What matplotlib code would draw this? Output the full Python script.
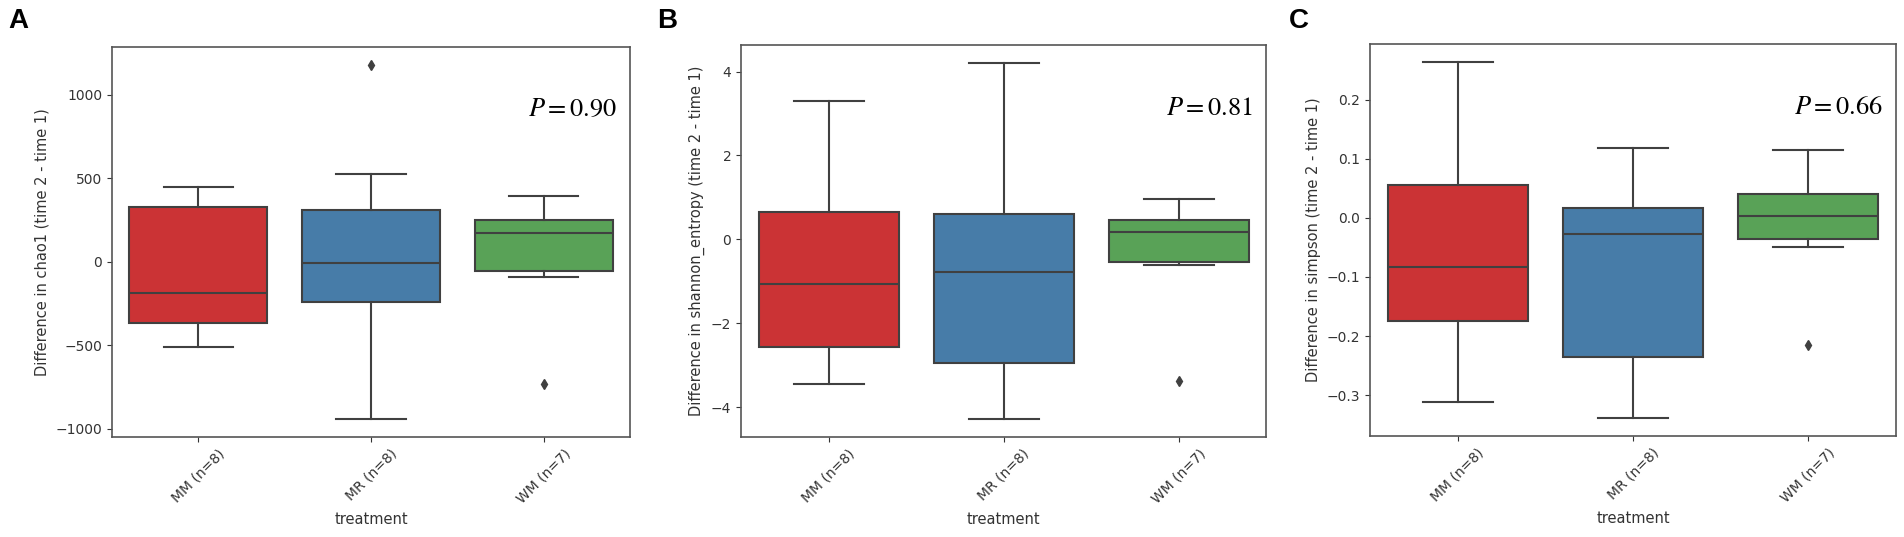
import matplotlib
matplotlib.use("Agg")
import matplotlib.pyplot as plt
import seaborn as sns

# groups and box statistics
treatments = ["MM (n=8)", "MR (n=8)", "WM (n=7)"]

chao1_whislo = [-511, -943, -88]
chao1_q1 = [-365, -240, -55]
chao1_med = [-189, -6, 175]
chao1_q3 = [331, 308, 250]
chao1_whishi = [450, 524, 396]
chao1_fliers = [[], [1181], [-729]]

shannon_whislo = [-3.46, -4.29, -0.61]
shannon_q1 = [-2.57, -2.96, -0.53]
shannon_med = [-1.06, -0.79, 0.17]
shannon_q3 = [0.66, 0.60, 0.45]
shannon_whishi = [3.30, 4.21, 0.97]
shannon_fliers = [[], [], [-3.37]]

simpson_whislo = [-0.312, -0.339, -0.050]
simpson_q1 = [-0.174, -0.236, -0.035]
simpson_med = [-0.083, -0.028, 0.003]
simpson_q3 = [0.056, 0.017, 0.040]
simpson_whishi = [0.264, 0.119, 0.114]
simpson_fliers = [[], [], [-0.215]]

metrics = ["chao1", "shannon_entropy", "simpson"]
p_values = ["0.90", "0.81", "0.66"]
letters = ["A", "B", "C"]

palette = [sns.desaturate(c, 0.75) for c in sns.color_palette("Set1", 3)]
line_col = "#404040"

W, H = 1904, 537
fig = plt.figure(figsize=(W / 100, H / 100), dpi=100)
plt.rcParams["mathtext.fontset"] = "stix"

boxes = [(112, 630, 47, 437), (741, 1266, 45, 437), (1370, 1896, 44, 436)]
letter_x = [8, 657, 1289]

data = [
    (chao1_whislo, chao1_q1, chao1_med, chao1_q3, chao1_whishi, chao1_fliers),
    (shannon_whislo, shannon_q1, shannon_med, shannon_q3, shannon_whishi, shannon_fliers),
    (simpson_whislo, simpson_q1, simpson_med, simpson_q3, simpson_whishi, simpson_fliers),
]

for i, (l, r, t, b) in enumerate(boxes):
    ax = fig.add_axes([l / W, (H - b) / H, (r - l) / W, (b - t) / H])
    wlo, q1, med, q3, whi, fl = data[i]
    stats = []
    for j in range(len(treatments)):
        stats.append(dict(whislo=wlo[j], q1=q1[j], med=med[j], q3=q3[j],
                          whishi=whi[j], fliers=fl[j]))
    bp = ax.bxp(stats, positions=range(len(treatments)), widths=0.8,
                patch_artist=True, showfliers=True,
                boxprops=dict(edgecolor=line_col, linewidth=1.5),
                whiskerprops=dict(color=line_col, linewidth=1.5),
                capprops=dict(color=line_col, linewidth=1.5),
                medianprops=dict(color=line_col, linewidth=1.5),
                flierprops=dict(marker="d", markerfacecolor=line_col,
                                markeredgecolor=line_col, markersize=5))
    for patch, c in zip(bp["boxes"], palette):
        patch.set_facecolor(c)
    ax.set_xlim(-0.5, len(treatments) - 0.5)
    ax.set_xticks(range(len(treatments)))
    ax.set_xticklabels(treatments, rotation=45, ha="center")
    ax.tick_params(labelsize=10, colors="#333333")
    for s in ax.spines.values():
        s.set_color("#555555")
        s.set_linewidth(1.2)
    ax.set_xlabel("treatment", fontsize=10.5, color="#333333")
    ax.set_ylabel("Difference in %s (time 2 - time 1)" % metrics[i],
                  fontsize=10.5, color="#333333")
    ax.text(0.975, 0.84, r"$P = \mathrm{%s}$" % p_values[i], transform=ax.transAxes,
            ha="right", va="center", fontsize=19)
    fig.text(letter_x[i] / W, 1 - 8 / H, letters[i], ha="left", va="top",
             fontsize=20, fontweight="bold", family="Liberation Sans")

fig.savefig("out.png", dpi=100)
